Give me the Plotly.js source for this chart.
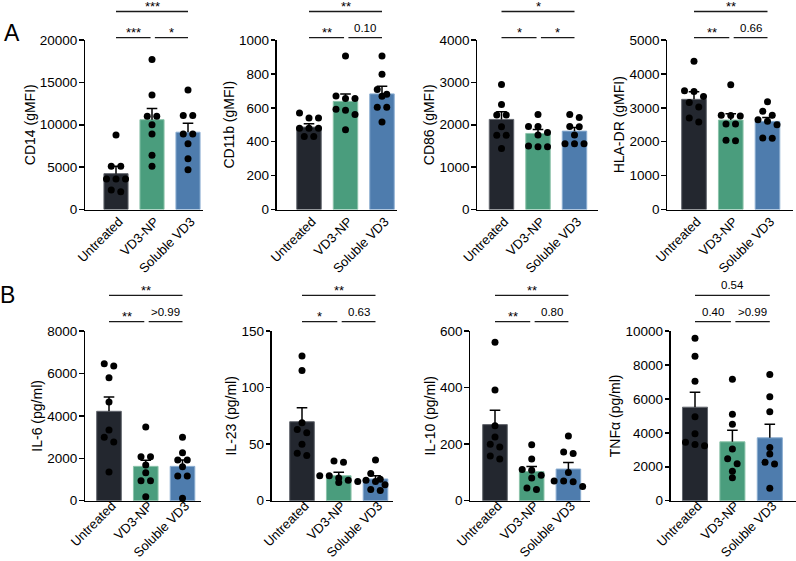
<!DOCTYPE html>
<html>
<head>
<meta charset="utf-8">
<script src="https://cdn.plot.ly/plotly-3.0.1.min.js"></script>
<style>
  html, body { margin: 0; padding: 0; background: #ffffff; }
  #chart { width: 796px; height: 561px; }
</style>
</head>
<body>
<div id="chart"></div>
<script>
// Treatment groups (x-axis categories) shared by every panel
const groups = ['Untreated', 'VD3-NP', 'Soluble VD3'];

// ---- Panel A: surface markers (gMFI) ----
const cd14Values = [
  [8800, 5100, 5100, 3600, 3600, 3600, 2300, 2100],
  [17700, 13500, 11000, 11000, 10000, 8900, 6400, 5100],
  [14100, 11100, 11100, 8900, 8900, 7750, 6000, 4700]
];
const cd14Mean = [4230, 10600, 9120];
const cd14Sem = [860, 1330, 1060];
const cd14Sig = ['***', '*', '***'];

const cd11bValues = [
  [570, 540, 540, 480, 480, 480, 430, 430],
  [905, 670, 655, 655, 592, 585, 560, 470],
  [905, 798, 708, 680, 668, 603, 603, 516]
];
const cd11bMean = [486, 638, 682];
const cd11bSem = [20, 43, 45];
const cd11bSig = ['**', '0.10', '**'];

const cd86Values = [
  [2950, 2480, 2230, 2230, 1950, 1750, 1750, 1440],
  [2240, 1960, 1960, 1820, 1760, 1500, 1480, 1480],
  [2240, 2170, 1960, 1950, 1760, 1550, 1550, 1550]
];
const cd86Mean = [2126, 1795, 1850];
const cd86Sem = [181, 95, 87];
const cd86Sig = ['*', '*', '*'];

const hladrValues = [
  [4370, 3500, 3480, 3330, 3160, 3020, 2700, 2580],
  [3680, 2780, 2770, 2760, 2520, 2520, 2040, 2030],
  [3180, 2900, 2780, 2650, 2600, 2500, 2110, 2100]
];
const hladrMean = [3250, 2640, 2600];
const hladrSem = [225, 184, 117];
const hladrSig = ['**', '0.66', '**'];

// ---- Panel B: secreted cytokines (pg/ml) ----
const il6Values = [
  [6460, 6350, 5800, 4650, 3330, 2990, 2770, 1350],
  [3475, 2075, 2075, 1680, 1320, 940, 940, 190],
  [2990, 2260, 1920, 1920, 1600, 1160, 1160, 110]
];
const il6Mean = [4214, 1619, 1619];
const il6Sem = [676, 283, 299];
const il6Sig = ['**', '>0.99', '**'];

const il23Values = [
  [128, 115, 69, 63, 60, 50, 42, 40],
  [35, 34, 22, 22, 20, 18, 17, 16],
  [36, 24, 19, 18, 17, 14, 10, 9]
];
const il23Mean = [69.8, 22.1, 19.2];
const il23Sem = [12.4, 3.0, 2.9];
const il23Sig = ['*', '0.63', '**'];

const il10Values = [
  [560, 391, 265, 225, 200, 190, 158, 147],
  [198, 147, 110, 108, 90, 80, 45, 40],
  [229, 172, 167, 100, 70, 70, 67, 50]
];
const il10Mean = [269, 103, 112];
const il10Sem = [51, 18, 23];
const il10Sig = ['**', '0.80', '**'];

const tnfValues = [
  [9570, 8510, 7040, 4940, 3940, 3450, 3310, 3240],
  [7160, 5100, 4510, 3040, 2470, 2180, 1740, 1350],
  [7430, 6120, 5240, 3140, 2750, 2260, 2160, 730]
];
const tnfMean = [5510, 3471, 3706];
const tnfSem = [882, 686, 800];
const tnfSig = ['0.40', '>0.99', '0.54'];

// ---- Styling / geometry ----
const W = 796, H = 561;
const FONT = 'Liberation Sans, Arial, Helvetica, sans-serif';
const barColors = ['#23272f', '#4a9d7d', '#4e7cad'];
const edgeColors = ['#62666d', '#8cc3aa', '#8badd1'];

// vertical layout of the two rows (pixels from top)
const rows = [
  { top: 40, bottom: 209.5, upper: 11.5, lower: 37.7, labelShift: -2 },
  { top: 331, bottom: 500.7, upper: 295.3, lower: 321.7, labelShift: -9 }
];

// each panel: axis extent and bar pitch in pixels
const panels = [
  { title: 'CD14 (gMFI)', v: cd14Values, m: cd14Mean, s: cd14Sem, sig: cd14Sig, yMax: 20000, dtick: 5000, row: 0, left: 85, right: 203, first: 116, pitch: 36 },
  { title: 'CD11b (gMFI)', v: cd11bValues, m: cd11bMean, s: cd11bSem, sig: cd11bSig, yMax: 1000, dtick: 200, row: 0, left: 276.7, right: 397, first: 309, pitch: 36.5 },
  { title: 'CD86 (gMFI)', v: cd86Values, m: cd86Mean, s: cd86Sem, sig: cd86Sig, yMax: 4000, dtick: 1000, row: 0, left: 477.3, right: 598, first: 501.5, pitch: 36.5 },
  { title: 'HLA-DR (gMFI)', v: hladrValues, m: hladrMean, s: hladrSem, sig: hladrSig, yMax: 5000, dtick: 1000, row: 0, left: 667.3, right: 793, first: 694, pitch: 36.75 },
  { title: 'IL-6 (pg/ml)', v: il6Values, m: il6Mean, s: il6Sem, sig: il6Sig, yMax: 8000, dtick: 2000, row: 1, left: 85, right: 201, first: 109, pitch: 36.75 },
  { title: 'IL-23 (pg/ml)', v: il23Values, m: il23Mean, s: il23Sem, sig: il23Sig, yMax: 150, dtick: 50, row: 1, left: 271.7, right: 393, first: 302, pitch: 36.75 },
  { title: 'IL-10 (pg/ml)', v: il10Values, m: il10Mean, s: il10Sem, sig: il10Sig, yMax: 600, dtick: 200, row: 1, left: 470.3, right: 590, first: 495, pitch: 36.7 },
  { title: 'TNFα (pg/ml)', v: tnfValues, m: tnfMean, s: tnfSem, sig: tnfSig, yMax: 10000, dtick: 2000, row: 1, left: 670.7, right: 796, first: 695, pitch: 37.4 }
];

// Spread tied values sideways in rows, centred on the group, like a scatter dot plot
function swarm(vals, center, pxPerY, pitchPx) {
  const step = 9.5, rowGap = 6.5;
  const order = vals.map((_, i) => i).sort((a, b) => vals[b] - vals[a]);
  const xs = new Array(vals.length);
  let row = [];
  const flush = () => {
    row.forEach((idx, j) => { xs[idx] = center + (j - (row.length - 1) / 2) * step / pitchPx; });
    row = [];
  };
  order.forEach(idx => {
    if (row.length && (vals[row[0]] - vals[idx]) * pxPerY > rowGap) flush();
    row.push(idx);
  });
  flush();
  return xs;
}

const py = px => 1 - px / H;
const traces = [];
const layout = {
  width: W, height: H,
  margin: { l: 0, r: 0, t: 0, b: 0 },
  paper_bgcolor: '#ffffff', plot_bgcolor: 'rgba(0,0,0,0)',
  showlegend: false,
  font: { family: FONT, color: '#000000', size: 14 },
  shapes: [], annotations: []
};

panels.forEach((p, k) => {
  const n = k + 1;
  const xId = n === 1 ? 'x' : 'x' + n;
  const yId = n === 1 ? 'y' : 'y' + n;
  const r = rows[p.row];
  const heightPx = r.bottom - r.top;
  const pxPerY = heightPx / p.yMax;
  const cap = 5.3 / p.pitch;

  layout['xaxis' + (n === 1 ? '' : n)] = {
    domain: [p.left / W, Math.min(p.right / W, 1)],
    range: [(p.left - p.first) / p.pitch, (p.right - p.first) / p.pitch],
    anchor: yId, type: 'linear', fixedrange: true,
    showline: true, linecolor: '#000000', linewidth: 1.5,
    showgrid: false, zeroline: false, ticks: '',
    tickvals: [0, 1, 2], ticktext: groups, tickangle: -45,
    ticklabelstandoff: r.labelShift, ticklabelshift: 3,
    tickfont: { family: FONT, size: 13, color: '#000000' }
  };
  layout['yaxis' + (n === 1 ? '' : n)] = {
    domain: [py(r.bottom), py(r.top)],
    range: [0, p.yMax], anchor: xId, fixedrange: true,
    showline: true, linecolor: '#000000', linewidth: 1.5,
    showgrid: false, zeroline: false,
    ticks: 'outside', ticklen: 4.5, tickwidth: 1.5, tickcolor: '#000000',
    tick0: 0, dtick: p.dtick, tickformat: 'd', ticklabelstandoff: -1,
    tickfont: { family: FONT, size: 13.5, color: '#000000' },
    title: { text: p.title, standoff: 1, font: { family: FONT, size: 14, color: '#000000' } }
  };

  // bars: group means
  traces.push({
    type: 'bar', x: [0, 1, 2], y: p.m, width: 0.67,
    xaxis: xId, yaxis: yId,
    marker: { color: barColors, line: { color: edgeColors, width: 1 } },
    hoverinfo: 'skip'
  });

  // upward SEM whiskers with caps
  const ex = [], ey = [];
  p.m.forEach((mu, i) => {
    const top = mu + p.s[i];
    ex.push(i, i, null, i - cap, i + cap, null);
    ey.push(mu, top, null, top, top, null);
  });
  traces.push({
    type: 'scatter', mode: 'lines', x: ex, y: ey,
    xaxis: xId, yaxis: yId, cliponaxis: false,
    line: { color: '#000000', width: 1.5 }, hoverinfo: 'skip'
  });

  // individual donors
  const px = [], pyv = [];
  p.v.forEach((vals, i) => {
    const xs = swarm(vals, i, pxPerY, p.pitch);
    vals.forEach((v, j) => { px.push(xs[j]); pyv.push(v); });
  });
  traces.push({
    type: 'scatter', mode: 'markers', x: px, y: pyv,
    xaxis: xId, yaxis: yId, cliponaxis: false,
    marker: { color: '#000000', size: 7 }, hoverinfo: 'skip'
  });

  // comparison brackets: left pair, right pair, outer pair
  const spans = [[0, 0.96], [1.08, 2], [0, 2]];
  const lines = [r.lower, r.lower, r.upper];
  spans.forEach((sp, j) => {
    const yl = lines[j];
    layout.shapes.push({
      type: 'line', xref: xId, yref: 'paper',
      x0: sp[0], x1: sp[1], y0: py(yl), y1: py(yl),
      line: { color: '#1a1a1a', width: 1.3 }
    });
    const label = p.sig[j];
    const isStar = /^\*+$/.test(label);
    layout.annotations.push({
      xref: xId, yref: 'paper', x: (sp[0] + sp[1]) / 2,
      y: py(isStar ? yl - 4.8 : yl - 10.2), yanchor: 'middle', xanchor: 'center',
      text: label, showarrow: false,
      font: { family: FONT, size: isStar ? 13 : 11.5, color: '#000000' }
    });
  });
});

// panel letters
layout.annotations.push(
  { xref: 'paper', yref: 'paper', x: 11.5 / W, y: py(33.3), xanchor: 'center', yanchor: 'middle',
    text: 'A', showarrow: false, font: { family: FONT, size: 23, color: '#000000' } },
  { xref: 'paper', yref: 'paper', x: 7.5 / W, y: py(294.7), xanchor: 'center', yanchor: 'middle',
    text: 'B', showarrow: false, font: { family: FONT, size: 23, color: '#000000' } }
);

Plotly.newPlot('chart', traces, layout, { staticPlot: true, displayModeBar: false });
</script>
</body>
</html>
